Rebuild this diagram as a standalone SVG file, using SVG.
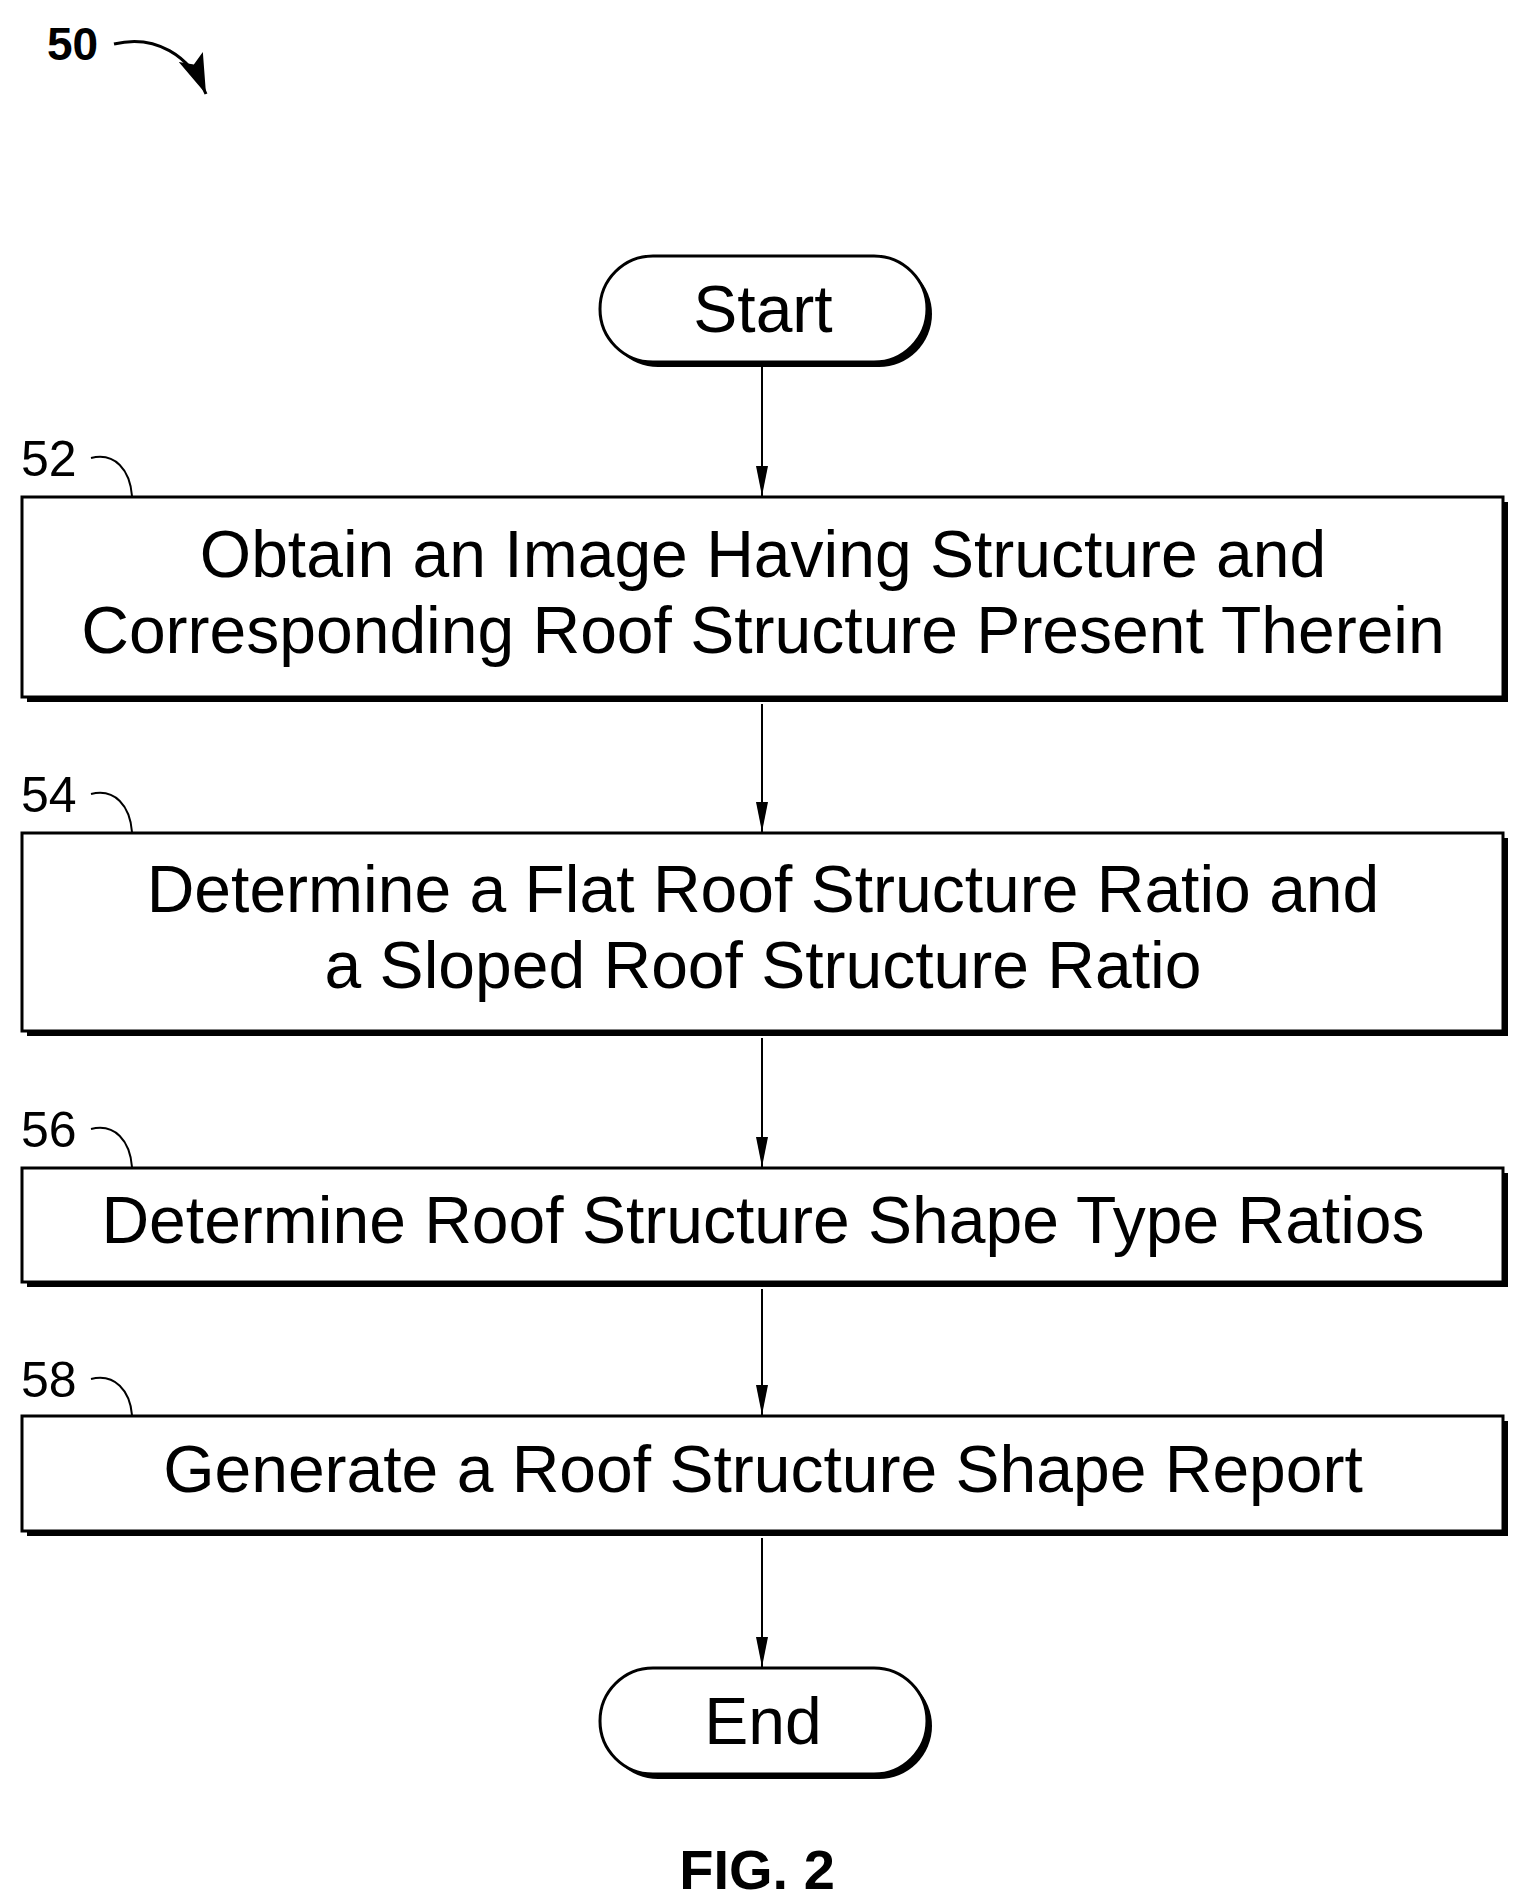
<svg xmlns="http://www.w3.org/2000/svg" width="1524" height="1902" viewBox="0 0 1524 1902">
<defs>
<marker id="ah" markerWidth="30" markerHeight="12" refX="30" refY="6" orient="auto" markerUnits="userSpaceOnUse" viewBox="0 0 30 12"><path d="M0,0 L30,6 L0,12 Z" fill="#000"/></marker>
<marker id="ah2" markerWidth="40" markerHeight="26" refX="40" refY="13" orient="auto" markerUnits="userSpaceOnUse" viewBox="0 0 40 26"><path d="M0,0 L40,13 L0,26 L8,13 Z" fill="#000"/></marker>
</defs>
<style>
.box{fill:#fff;stroke:#000;stroke-width:3}
.sh{fill:#000}
.t{font-family:"Liberation Sans",Arial,sans-serif;font-size:66px;text-anchor:middle;fill:#000}
.lbl{font-family:"Liberation Sans",Arial,sans-serif;font-size:50px;fill:#000}
.c{fill:none;stroke:#000;stroke-width:2}
.con{stroke:#000;stroke-width:2;fill:none;marker-end:url(#ah)}
</style>
<rect width="1524" height="1902" fill="#fff"/>
<g id="ref50">
<text x="47" y="60" font-family="Liberation Sans,Arial,sans-serif" font-weight="bold" font-size="46">50</text>
<path d="M114,44 C155,34 190,55 206,94" fill="none" stroke="#000" stroke-width="3" marker-end="url(#ah2)"/>
</g>
<g id="start">
<rect x="605" y="261" width="327" height="106" rx="53" class="sh"/>
<rect x="600" y="256" width="327" height="106" rx="53" class="box"/>
<text x="763" y="332" class="t">Start</text>
</g>
<g id="n52">
<rect x="27" y="502" width="1481" height="200" class="sh"/>
<rect x="22" y="497" width="1481" height="200" class="box"/>
<text x="763" y="577" class="t">Obtain an Image Having Structure and</text>
<text x="763" y="653" class="t">Corresponding Roof Structure Present Therein</text>
<text x="21" y="476" class="lbl">52</text>
<path d="M91,458 C115,452 130,470 132,496" class="c"/>
</g>
<g id="n54">
<rect x="27" y="838" width="1481" height="198" class="sh"/>
<rect x="22" y="833" width="1481" height="198" class="box"/>
<text x="763" y="912" class="t">Determine a Flat Roof Structure Ratio and</text>
<text x="763" y="988" class="t">a Sloped Roof Structure Ratio</text>
<text x="21" y="812" class="lbl">54</text>
<path d="M91,794 C115,788 130,806 132,832" class="c"/>
</g>
<g id="n56">
<rect x="27" y="1173" width="1481" height="114" class="sh"/>
<rect x="22" y="1168" width="1481" height="114" class="box"/>
<text x="763" y="1243" class="t">Determine Roof Structure Shape Type Ratios</text>
<text x="21" y="1147" class="lbl">56</text>
<path d="M91,1129 C115,1123 130,1141 132,1167" class="c"/>
</g>
<g id="n58">
<rect x="27" y="1421" width="1481" height="115" class="sh"/>
<rect x="22" y="1416" width="1481" height="115" class="box"/>
<text x="763" y="1492" class="t">Generate a Roof Structure Shape Report</text>
<text x="21" y="1397" class="lbl">58</text>
<path d="M91,1379 C115,1373 130,1391 132,1415" class="c"/>
</g>
<g id="end">
<rect x="605" y="1673" width="327" height="106" rx="53" class="sh"/>
<rect x="600" y="1668" width="327" height="106" rx="53" class="box"/>
<text x="763" y="1744" class="t">End</text>
</g>
<g id="connectors">
<line x1="762" y1="364" x2="762" y2="496" class="con"/>
<line x1="762" y1="704" x2="762" y2="832" class="con"/>
<line x1="762" y1="1038" x2="762" y2="1167" class="con"/>
<line x1="762" y1="1289" x2="762" y2="1415" class="con"/>
<line x1="762" y1="1538" x2="762" y2="1667" class="con"/>
</g>
<text x="757" y="1889" font-family="Liberation Sans,Arial,sans-serif" font-weight="bold" font-size="56" text-anchor="middle">FIG. 2</text>
</svg>
